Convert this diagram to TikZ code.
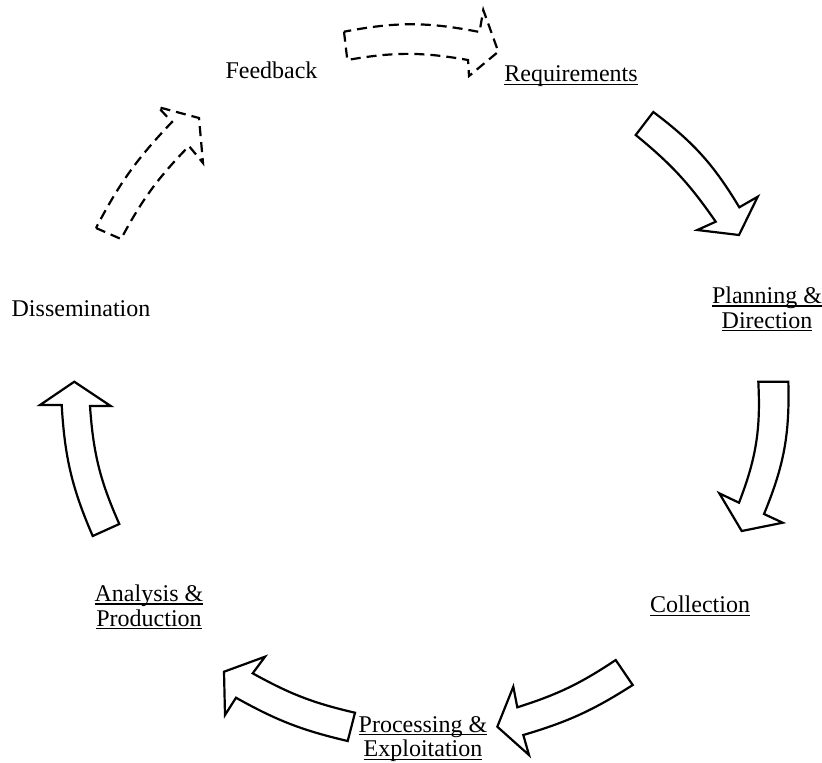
\documentclass[tikz,border=0pt]{standalone}
\usepackage{fontspec}
\setmainfont{Liberation Serif}
\newcommand\myul[1]{\setbox0\hbox{#1}\rlap{\rule[-1.7pt]{\wd0}{0.6pt}}\box0}
\newcommand\mylsl{\lineskiplimit-20pt\relax}
\begin{document}
\begin{tikzpicture}[x=0.5pt,y=-0.5pt,
  lbl/.style={font=\fontsize{12}{12.4}\selectfont, execute at begin node=\mylsl, inner sep=0pt, align=center},
  blk/.style={draw=black, line width=1.1pt, line join=miter, fill=white},
  dsh/.style={blk, dash pattern=on 5pt off 3pt}]
\useasboundingbox (0,0) rectangle (822,762);

% labels
\node[lbl] (fb)  at (271.5,70) {Feedback};
\node[lbl] (req) at (571,76) {\myul{Requirements}};
\node[lbl] (pd)  at (767,309) {\myul{Planning \&}\\\myul{Direction}};
\node[lbl] (col) at (700,606) {\myul{Collection}};
\node[lbl] (pe)  at (423,739) {\myul{Processing \&}\\\myul{Exploitation}};
\node[lbl] (ap)  at (149,607) {\myul{Analysis \&}\\\myul{Production}};
\node[lbl] (dis) at (81,309) {Dissemination};

% Requirements -> Planning
\draw[blk] (635.7,135) -- (653.3,112) to[bend left=11] (739.3,207.3) -- (757.7,196.7)
  -- (739,235) -- (697.3,230) -- (715.7,221.7) to[bend right=8] (635.7,135) -- cycle;
% Planning -> Collection
\draw[blk] (758.3,381.7) -- (788.3,381.7) to[bend left=12] (764,514) -- (782.7,522.7)
  -- (741.7,531) -- (719.3,493.3) -- (739,502.7) to[bend right=12] (758.3,381.7) -- cycle;
% Collection -> Processing
\draw[blk] (615.7,660) -- (632.7,685) to[bend left=8] (523.3,735) -- (529,755)
  -- (497.3,726.7) -- (513.3,686.7) -- (517.3,707.3) to[bend right=8] (615.7,660) -- cycle;
% Processing -> Analysis
\draw[blk] (355,712.7) -- (347.7,741) to[bend left=8] (236,697.7) -- (225,715)
  -- (224,671.7) -- (265,656.7) -- (252.7,673.3) to[bend right=8] (355,712.7) -- cycle;
% Analysis -> Dissemination
\draw[blk] (119.3,524) -- (92.7,536) to[bend left=10] (61.7,405) -- (40,405)
  -- (74.3,381.7) -- (110.7,406) -- (90,406) to[bend right=10] (119.3,524) -- cycle;
% Dissemination -> Feedback (dashed)
\draw[dsh] (96,228) -- (121,239) to[bend left=8] (189,146) -- (203,163)
  -- (199,118) -- (158,107) -- (172,122) to[bend right=8] (96,228) -- cycle;
% Feedback -> Requirements (dashed)
\draw[dsh] (344,31.7) -- (347.3,60) to[bend left=10] (468,60) -- (469,76)
  -- (498.3,51.7) -- (483.3,10) -- (479.5,32) to[bend right=11] (344,31.7) -- cycle;
\end{tikzpicture}
\end{document}
